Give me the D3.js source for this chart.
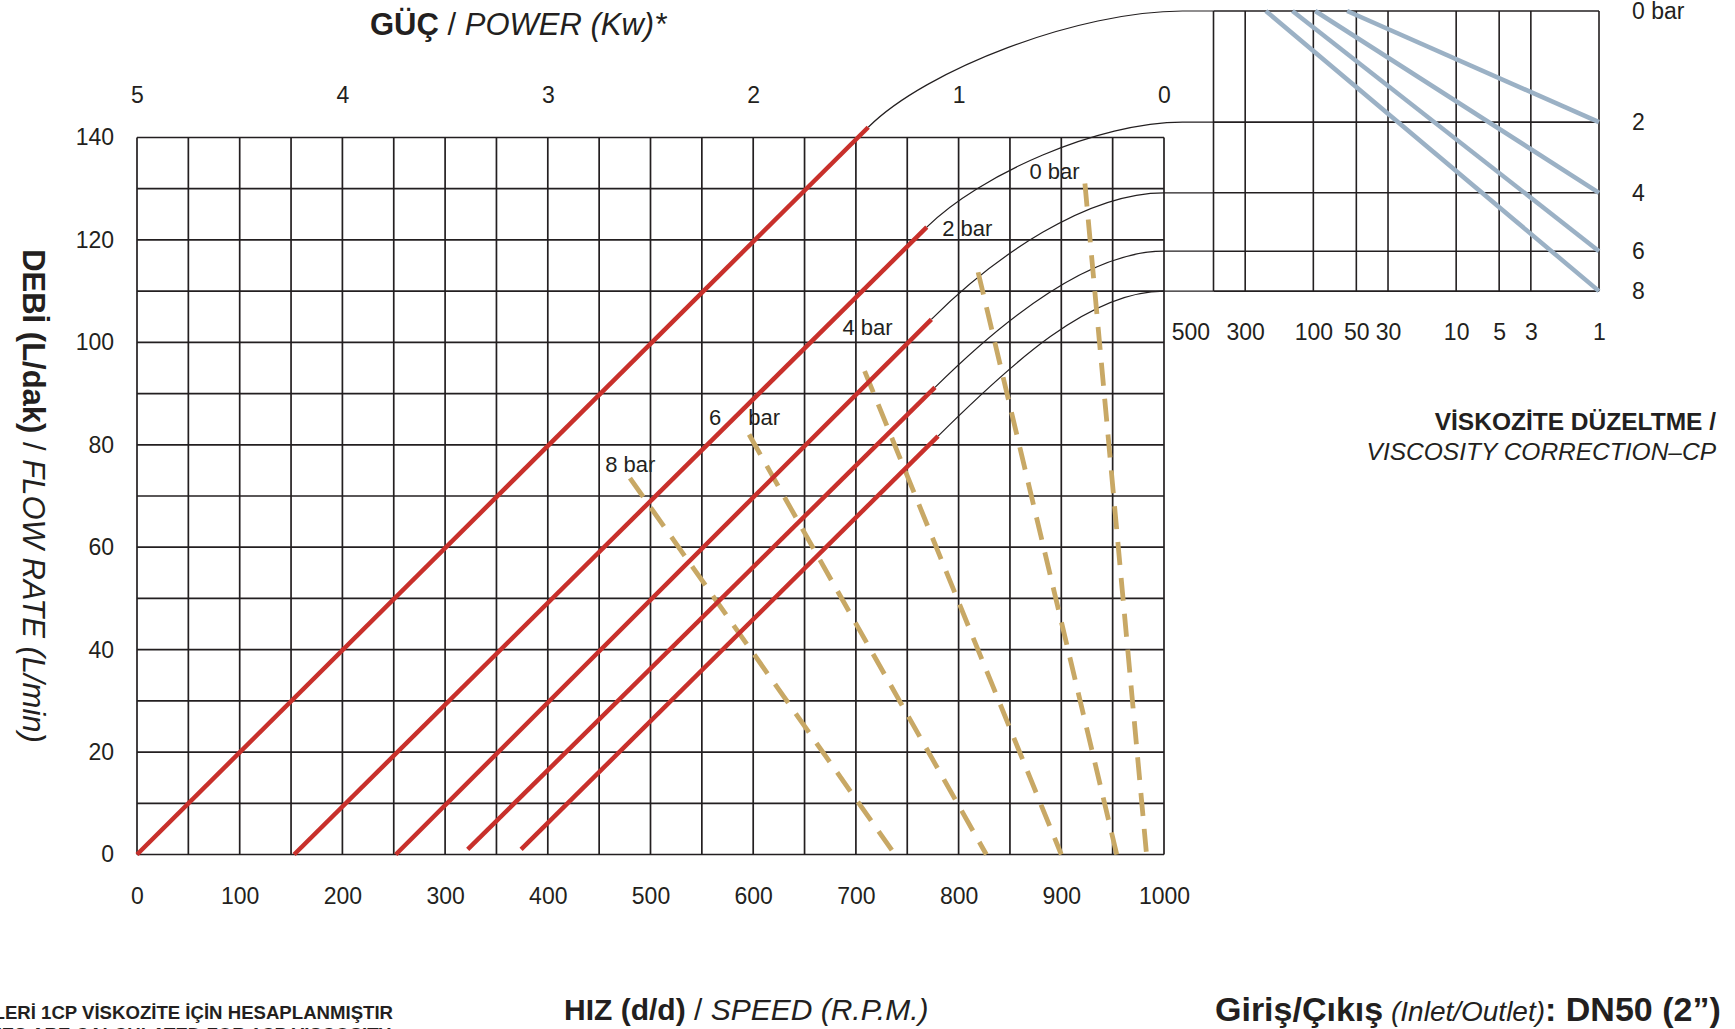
<!DOCTYPE html>
<html>
<head>
<meta charset="utf-8">
<script src="https://cdn.jsdelivr.net/npm/d3@7"></script>
<style>
  body { margin: 0; background: #fff; }
  svg { display: block; font-family: "Liberation Sans", Arial, sans-serif; color: #231f20; }
  text { white-space: pre; }
</style>
</head>
<body>
<svg id="chart" width="1735" height="1029"></svg>
<script>
// ticks
const speedTicks = [0, 100, 200, 300, 400, 500, 600, 700, 800, 900, 1000];
const flowTicks = [0, 20, 40, 60, 80, 100, 120, 140];
const powerTicks = [5, 4, 3, 2, 1, 0];
const viscTicks = [500, 300, 100, 50, 30, 10, 5, 3, 1];

// one entry per pressure (bar)
const pressures = [0, 2, 4, 6, 8];

// flow line of each pressure, [rpm, L/min] at both ends
const flowStart = [[0, 0], [153, 0], [252, 0], [322, 1], [374, 1]];
const flowEnd = [[712, 142], [769, 122.5], [773.5, 104.5], [777, 91.2], [780, 81.7]];

// power (dashed) line of each pressure: top point, then rpm where it meets 0 L/min
const powerTop = [[923, 131], [819, 113.7], [708.5, 94.4], [596, 82], [480, 73.5]];
const powerZeroSpeed = [983, 954, 900, 827, 738];

// pressure rows of the viscosity chart, read on the flow axis
const viscRowFlow = [164.7, 143, 129.2, 117.8, 110];
const connectorEndSpeed = [1018, 1018, 1000, 1000, 1000];

// viscosity correction lines: cP on the 0 bar row -> 1 cP on rows 2, 4, 6, 8
const viscStart = [58, 97, 140, 215];

// curve labels, [rpm, L/min]
const labelPos = [[869, 131.8], [784, 120.7], [687, 101.4], [557, 83.8], [456, 74.6]];

const svg = d3.select("#chart"),
  ink = "#231f20",
  red = "#c8302b",
  tan = "#c8a865",
  steel = "#9bb1c5";

const x = d3.scaleLinear().domain([0, 1000]).range([137, 1164]);
const y = d3.scaleLinear().domain([0, 140]).range([854.5, 137.5]);
const power = d3.scaleLinear().domain([5, 0]).range(x.range());
const visc = d3.scaleLog().domain([500, 1]).range([1213.5, 1599]);

svg.append("rect").attr("width", 1735).attr("height", 1029).attr("fill", "#fff");

// main grid
const grid = svg.append("g").attr("stroke", ink).attr("stroke-width", 1.7);
grid.selectAll("line.v")
  .data(d3.range(0, 1001, 50))
  .join("line").attr("class", "v")
  .attr("x1", d => x(d)).attr("x2", d => x(d))
  .attr("y1", y(0)).attr("y2", y(140));
grid.selectAll("line.h")
  .data(d3.range(0, 141, 10))
  .join("line").attr("class", "h")
  .attr("x1", x(0)).attr("x2", x(1000))
  .attr("y1", d => y(d)).attr("y2", d => y(d));

// viscosity grid
const vgrid = svg.append("g").attr("stroke", ink).attr("stroke-width", 1.6);
vgrid.selectAll("line.v")
  .data(viscTicks)
  .join("line").attr("class", "v")
  .attr("x1", d => visc(d)).attr("x2", d => visc(d))
  .attr("y1", y(viscRowFlow[0])).attr("y2", y(viscRowFlow[4]));
vgrid.selectAll("line.h")
  .data(viscRowFlow)
  .join("line").attr("class", "h")
  .attr("x1", visc(500)).attr("x2", visc(1))
  .attr("y1", d => y(d)).attr("y2", d => y(d));

// connectors: top of each flow line -> its row on the viscosity chart
svg.append("g")
  .selectAll("path")
  .data(pressures)
  .join("path")
  .attr("fill", "none")
  .attr("stroke", ink)
  .attr("stroke-width", 1.2)
  .attr("d", (p, i) => {
    const x0 = x(flowEnd[i][0]), y0 = y(flowEnd[i][1]);
    const xs = x(flowStart[i][0]), ys = y(flowStart[i][1]);
    const len = Math.hypot(x0 - xs, y0 - ys);
    const ux = (x0 - xs) / len, uy = (y0 - ys) / len;
    const x3 = x(connectorEndSpeed[i]), y3 = y(viscRowFlow[i]);
    const k = 0.5 * (y0 - y3) * Math.SQRT2;
    const path = d3.path();
    path.moveTo(x0, y0);
    path.bezierCurveTo(x0 + ux * k, y0 + uy * k, x3 - 0.33 * (x3 - x0), y3, x3, y3);
    path.lineTo(visc(500), y3);
    return path.toString();
  });

// power lines
svg.append("g")
  .selectAll("line")
  .data(pressures)
  .join("line")
  .attr("x1", (p, i) => x(powerTop[i][0]))
  .attr("y1", (p, i) => y(powerTop[i][1]))
  .attr("x2", (p, i) => x(powerZeroSpeed[i]))
  .attr("y2", y(0))
  .attr("stroke", tan)
  .attr("stroke-width", 4.8)
  .attr("stroke-dasharray", "23,13");

// flow lines
svg.append("g")
  .selectAll("line")
  .data(pressures)
  .join("line")
  .attr("x1", (p, i) => x(flowStart[i][0]))
  .attr("y1", (p, i) => y(flowStart[i][1]))
  .attr("x2", (p, i) => x(flowEnd[i][0]))
  .attr("y2", (p, i) => y(flowEnd[i][1]))
  .attr("stroke", red)
  .attr("stroke-width", 4.5);

// viscosity correction lines
svg.append("g")
  .selectAll("line")
  .data(viscStart)
  .join("line")
  .attr("x1", d => visc(d))
  .attr("y1", y(viscRowFlow[0]))
  .attr("x2", visc(1))
  .attr("y2", (d, i) => y(viscRowFlow[i + 1]))
  .attr("stroke", steel)
  .attr("stroke-width", 4.5);

// axes (labels only)
const styleAxis = g => {
  g.attr("font-size", 23).attr("font-family", null);
  g.select(".domain").remove();
};

svg.append("g")
  .attr("transform", "translate(0," + y(0) + ")")
  .call(d3.axisBottom(x).tickValues(speedTicks).tickFormat(d3.format("d")).tickSize(0).tickPadding(33))
  .call(styleAxis);

svg.append("g")
  .attr("transform", "translate(" + x(0) + ",0)")
  .call(d3.axisLeft(y).tickValues(flowTicks).tickSize(0).tickPadding(23))
  .call(styleAxis);

svg.append("g")
  .attr("transform", "translate(0," + y(140) + ")")
  .call(d3.axisTop(power).tickValues(powerTicks).tickFormat(d3.format("d")).tickSize(0).tickPadding(35))
  .call(styleAxis);

svg.append("g")
  .attr("transform", "translate(0," + y(viscRowFlow[4]) + ")")
  .call(d3.axisBottom(visc).tickValues(viscTicks).tickFormat(d3.format("d")).tickSize(0).tickPadding(33))
  .call(styleAxis)
  .selectAll(".tick text")
  .filter(d => d === 500)
  .attr("text-anchor", "end")
  .attr("x", -4);

// pressure labels at the right of the viscosity chart
svg.append("g")
  .selectAll("text")
  .data(pressures)
  .join("text")
  .attr("x", visc(1) + 33)
  .attr("y", (p, i) => y(viscRowFlow[i]))
  .attr("dy", "0.35em")
  .attr("font-size", 23)
  .attr("fill", ink)
  .text((p, i) => i === 0 ? p + " bar" : p);

// curve labels
const labels = svg.append("g")
  .selectAll("text")
  .data(pressures)
  .join("text")
  .attr("x", (p, i) => x(labelPos[i][0]))
  .attr("y", (p, i) => y(labelPos[i][1]))
  .attr("font-size", 22)
  .attr("fill", ink);
labels.append("tspan").text(p => p);
labels.append("tspan").attr("dx", (p, i) => i === 3 ? 27 : 6).text("bar");

// titles
const title = (tx, ty, parts, anchor, transform) => {
  const t = svg.append("text")
    .attr("x", tx).attr("y", ty)
    .attr("fill", ink)
    .attr("text-anchor", anchor || "start");
  if (transform) t.attr("transform", transform);
  parts.forEach(p => {
    t.append("tspan")
      .attr("font-size", p.size)
      .attr("font-weight", p.bold ? "bold" : "normal")
      .attr("font-style", p.italic ? "italic" : "normal")
      .text(p.text);
  });
  return t;
};

title(370, 35, [
  {text: "GÜÇ", size: 31, bold: true},
  {text: " / ", size: 31},
  {text: "POWER (Kw)*", size: 31, italic: true}
]);

title(0, 0, [
  {text: "DEBİ (L/dak)", size: 31, bold: true},
  {text: " / ", size: 31},
  {text: "FLOW RATE (L/min)", size: 31, italic: true}
], "middle", "translate(29,496) rotate(90)").attr("dy", "0.35em");

title(564, 1020, [
  {text: "HIZ (d/d)", size: 30, bold: true},
  {text: " / ", size: 30},
  {text: "SPEED (R.P.M.)", size: 30, italic: true}
]);

title(1215, 1021, [
  {text: "Giriş/Çıkış", size: 34, bold: true},
  {text: " ", size: 28},
  {text: "(Inlet/Outlet)", size: 28, italic: true},
  {text: ": DN50 (2”)", size: 34, bold: true}
]);

title(1716, 430, [{text: "VİSKOZİTE DÜZELTME /", size: 24.5, bold: true}], "end");
title(1716, 460, [{text: "VISCOSITY CORRECTION–CP", size: 24.5, italic: true}], "end");

title(393, 1019, [{text: "*GÜÇ DEĞERLERİ 1CP VİSKOZİTE İÇİN HESAPLANMIŞTIR", size: 18.6, bold: true}], "end");
title(391, 1041, [{text: "*POWER VALUES ARE CALCULATED FOR 1CP VISCOSITY", size: 18.6, bold: true}], "end");
</script>
</body>
</html>
